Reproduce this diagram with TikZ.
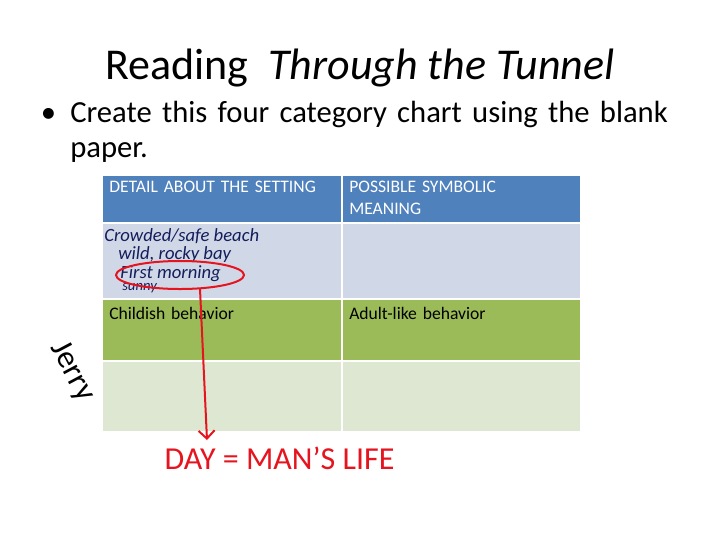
\documentclass[tikz,border=0pt]{standalone}
\usepackage{fontspec}
\setmainfont{Carlito}
\usetikzlibrary{arrows.meta}
\begin{document}
\begin{tikzpicture}[x=0.75pt,y=-0.75pt,
  cell/.style={draw=white,line width=1.5pt},
  hdr/.style={anchor=north west,font=\fontsize{13.2}{16.5}\selectfont,text width=130pt,inner sep=0pt},
  hand/.style={anchor=west,font=\fontsize{14}{14}\selectfont\itshape,inner sep=0pt},
  red/.style={color={rgb,255:red,230;green,20;blue,30}}]
\useasboundingbox (0,0) rectangle (720,540);
\node (title) at (360,68) {\fontsize{33}{38}\selectfont Reading\ \ \textit{Through the Tunnel}};
\node (b) [anchor=north west,text width=460pt,inner sep=0pt,align=left,font=\fontsize{23}{26}\selectfont] at (70,101) {Create this four category chart using the blank paper.};
\node (bul) [anchor=base west,inner sep=0pt,font=\fontsize{23}{26}\selectfont] at (b.base west) [xshift=-22pt] {\textbullet};
\fill[cell,fill={rgb,255:red,79;green,129;blue,189}] (102,175) rectangle (342,223);
\fill[cell,fill={rgb,255:red,79;green,129;blue,189}] (342,175) rectangle (581,223);
\fill[cell,fill={rgb,255:red,208;green,216;blue,232}] (102,223) rectangle (342,299);
\fill[cell,fill={rgb,255:red,208;green,216;blue,232}] (342,223) rectangle (581,299);
\fill[cell,fill={rgb,255:red,155;green,187;blue,89}] (102,299) rectangle (342,361);
\fill[cell,fill={rgb,255:red,155;green,187;blue,89}] (342,299) rectangle (581,361);
\fill[cell,fill={rgb,255:red,222;green,231;blue,209}] (102,361) rectangle (342,432);
\fill[cell,fill={rgb,255:red,222;green,231;blue,209}] (342,361) rectangle (581,432);
\node (h1) [hdr,white,text width=170pt] at (109,181) {DETAIL ABOUT THE SETTING};
\node (h2) [hdr,white] at (349,181) {POSSIBLE SYMBOLIC MEANING};
\node (c1) [hdr] at (109,307) {Childish behavior};
\node (c2) [hdr] at (349,307) {Adult-like behavior};
\node (w1) [hand,color={rgb,255:red,20;green,30;blue,90}] at (104,236) {Crowded/safe beach};
\node (w2) [hand,color={rgb,255:red,20;green,30;blue,90}] at (118,255) {wild, rocky bay};
\node (w3) [hand,color={rgb,255:red,20;green,30;blue,90}] at (120,274) {First morning};
\node (w4) [hand,color={rgb,255:red,20;green,30;blue,90},font=\fontsize{11}{11}\selectfont\itshape] at (122,288) {sunny};
\draw[red,line width=1.5pt] (180,275) ellipse (64 and 14);
\coordinate (tip) at (207,440);
\draw[red,line width=1.5pt,-{Straight Barb[length=6pt]}] (200,289) -- (tip);
\node (day) [red,anchor=west,font=\fontsize{24}{24}\selectfont] at (160,458) {DAY\ = MAN'S LIFE};
\node (jerry) [rotate=-62,font=\fontsize{24}{24}\selectfont] at (72,372) {Jerry};
\end{tikzpicture}
\end{document}
